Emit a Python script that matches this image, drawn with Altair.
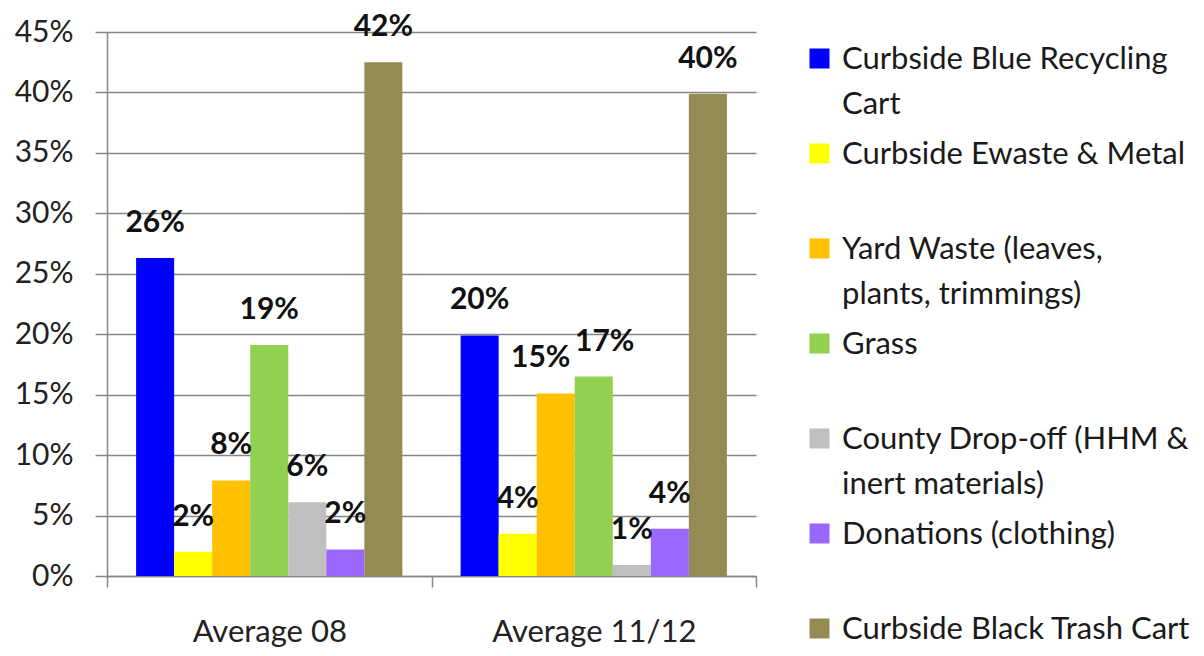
import altair as alt
import pandas as pd

groups = ["Average 08", "Average 11/12"]
series = [
    "Curbside Blue Recycling Cart",
    "Curbside Ewaste & Metal",
    "Yard Waste (leaves, plants, trimmings)",
    "Grass",
    "County Drop-off (HHM & inert materials)",
    "Donations (clothing)",
    "Curbside Black Trash Cart",
]
legend_lines = [
    ["Curbside Blue Recycling", "Cart"],
    ["Curbside Ewaste & Metal", " "],
    ["Yard Waste (leaves,", "plants, trimmings)"],
    ["Grass", " "],
    ["County Drop-off (HHM &", "inert materials)"],
    ["Donations (clothing)", " "],
    ["Curbside Black Trash Cart"],
]
avg08 = [0.263, 0.020, 0.079, 0.191, 0.061, 0.022, 0.425]
avg1112 = [0.199, 0.035, 0.151, 0.165, 0.009, 0.039, 0.399]
labels08 = ["26%", "2%", "8%", "19%", "6%", "2%", "42%"]
labels1112 = ["20%", "4%", "15%", "17%", "1%", "4%", "40%"]
colors = ["#0000FF", "#FFFF00", "#FFC000", "#92D050", "#BFBFBF", "#9966FF", "#948A54"]
y_ticks = [0, 0.05, 0.10, 0.15, 0.20, 0.25, 0.30, 0.35, 0.40, 0.45]

rows = []
for g, vals, labs in [(groups[0], avg08, labels08), (groups[1], avg1112, labels1112)]:
    for s, v, l in zip(series, vals, labs):
        rows.append({"group": g, "series": s, "value": v, "label": l})
df = pd.DataFrame(rows)

def js_str(s):
    return "'" + s.replace("'", "\\'") + "'"

label_expr = ""
for s, lines in zip(series, legend_lines):
    label_expr += "datum.label == " + js_str(s) + " ? [" + ",".join(js_str(x) for x in lines) + "] : "
label_expr += "datum.label"

FONT = "Lato"
GRID = "#868686"
SHIFT = 14  # upward shift of guide labels (applied by style), compensated on axes

x_enc = alt.X(
    "group:N",
    sort=groups,
    scale=alt.Scale(paddingInner=0, paddingOuter=0),
    axis=alt.Axis(
        title=None, labelAngle=0, tickBand="extent", tickSize=11, tickColor=GRID,
        domainColor=GRID, domainWidth=1.5, tickWidth=1.5, labelFont=FONT, labelFontSize=31,
        labelColor="#222222", labelPadding=30 + SHIFT, labelLimit=0,
    ),
)
xoff_enc = alt.XOffset("series:N", sort=series, scale=alt.Scale(paddingOuter=0.765, paddingInner=0))
y_enc = alt.Y(
    "value:Q",
    scale=alt.Scale(domain=[0, 0.45], nice=False),
    axis=alt.Axis(
        title=None, format=".0%", values=y_ticks, grid=True, gridColor=GRID, gridWidth=1.5,
        domainColor=GRID, domainWidth=1.5, tickColor=GRID, tickWidth=1.5, tickSize=12,
        labelFont=FONT, labelFontSize=30, labelColor="#222222", labelPadding=22,
        labelOffset=SHIFT,
    ),
)

bars = alt.Chart(df).mark_bar().encode(
    x=x_enc,
    xOffset=xoff_enc,
    y=y_enc,
    color=alt.Color(
        "series:N",
        sort=series,
        scale=alt.Scale(domain=series, range=colors),
        legend=alt.Legend(
            title=None, orient="none", legendX=697, legendY=11, symbolType="square",
            symbolSize=400, symbolStrokeWidth=0, labelFont=FONT, labelFontSize=31,
            labelOffset=7, labelLimit=0, labelExpr=label_expr, labelBaseline="top",
            rowPadding=18, labelColor="#1a1a1a",
        ),
    ),
)

def text_layer(dx, flt):
    return alt.Chart(df).mark_text(
        font=FONT, fontSize=30, fontWeight="bold", baseline="middle", dy=-35, dx=dx, color="#111111"
    ).encode(x=x_enc, xOffset=xoff_enc, y=y_enc, text="label:N").transform_filter(flt)

sel_orange = "datum.group == 'Average 11/12' && datum.series == 'Yard Waste (leaves, plants, trimmings)'"
sel_green = "datum.group == 'Average 11/12' && datum.series == 'Grass'"
text_main = text_layer(0, "!((" + sel_orange + ") || (" + sel_green + "))")
text_left = text_layer(-15, sel_orange)
text_right = text_layer(11, sel_green)

chart = (
    alt.layer(bars, text_main, text_left, text_right)
    .properties(
        width=649, height=544,
        autosize=alt.AutoSizeParams(type="none"),
        padding={"left": 99, "top": 24, "right": 440, "bottom": 72},
    )
    .configure(background="white", style={"guide-label": {"lineHeight": 45, "dy": -SHIFT}})
    .configure_view(strokeWidth=0)
)

chart.save("out.html", embed_options={"renderer": "svg", "actions": False})
